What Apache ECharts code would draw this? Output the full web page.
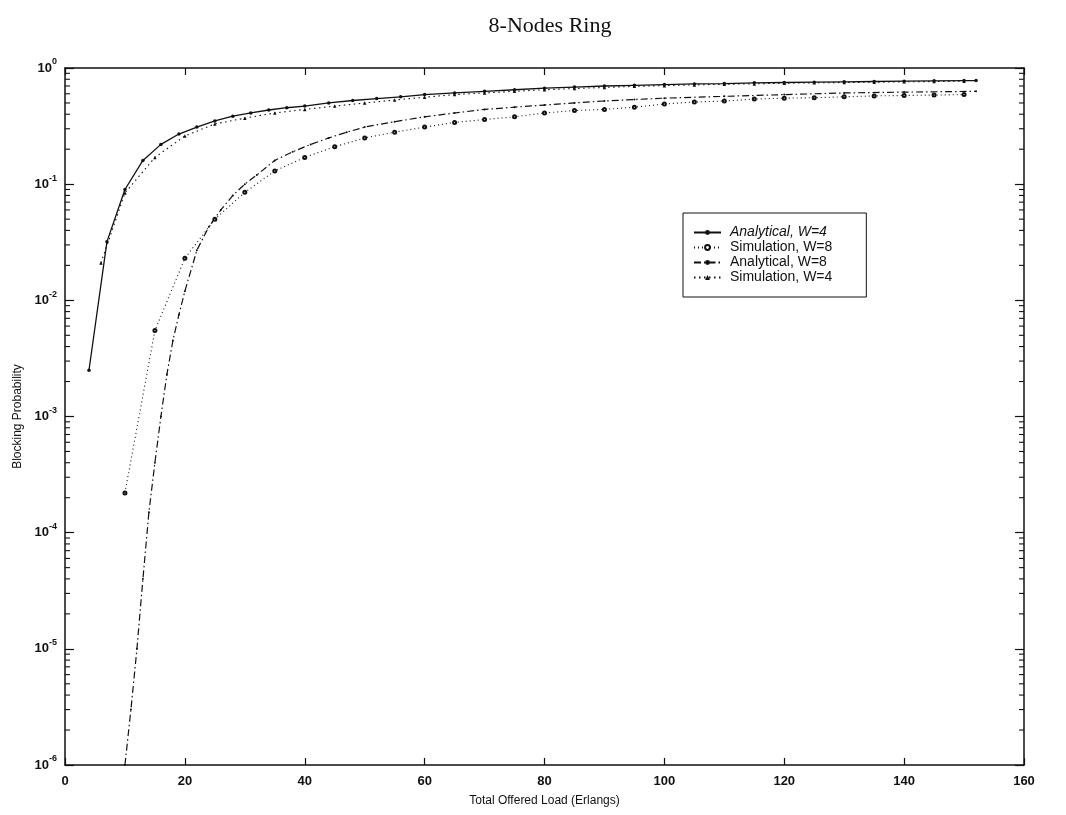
<!DOCTYPE html>
<html>
<head>
<meta charset="utf-8">
<script src="https://cdn.jsdelivr.net/npm/echarts@6/dist/echarts.min.js"></script>
<style>html,body{margin:0;padding:0;background:#fff}#c{width:1066px;height:815px}</style>
</head>
<body>
<div id="c"></div>
<script>
// ---- data ----
const xTicks = [0, 20, 40, 60, 80, 100, 120, 140, 160];
const yTickExponents = [0, -1, -2, -3, -4, -5, -6];

const anaW4X = [4,7,10,13,16,19,22,25,28,31,34,37,40,44,48,52,56,60,65,70,75,80,85,90,95,100,105,110,115,120,125,130,135,140,145,150,152];
const anaW4Y = [0.0025,0.032,0.09,0.16,0.22,0.27,0.31,0.35,0.385,0.41,0.435,0.455,0.47,0.5,0.525,0.545,0.565,0.59,0.61,0.63,0.65,0.67,0.685,0.70,0.71,0.72,0.73,0.735,0.745,0.75,0.755,0.76,0.765,0.77,0.775,0.78,0.78];

const simW4X = [6,10,15,20,25,30,35,40,45,50,55,60,65,70,75,80,85,90,95,100,105,110,115,120,125,130,135,140,145,150];
const simW4Y = [0.021,0.084,0.17,0.26,0.33,0.37,0.41,0.44,0.47,0.5,0.53,0.56,0.59,0.61,0.63,0.65,0.665,0.68,0.695,0.705,0.715,0.725,0.73,0.74,0.745,0.75,0.755,0.76,0.765,0.77];

const anaW8X = [10,11,12,13,14,15,16,17,18,19,20,22,24,26,28,30,32,35,38,41,44,47,50,55,60,65,70,75,80,85,90,95,100,110,120,130,140,152];
const anaW8Y = [1e-6,3e-6,1e-5,4e-5,1.5e-4,4e-4,1e-3,2.3e-3,4.5e-3,7.5e-3,0.012,0.027,0.043,0.06,0.08,0.1,0.12,0.16,0.19,0.22,0.25,0.28,0.31,0.345,0.38,0.41,0.44,0.46,0.48,0.5,0.52,0.535,0.55,0.57,0.59,0.61,0.62,0.63];

const simW8X = [10,15,20,25,30,35,40,45,50,55,60,65,70,75,80,85,90,95,100,105,110,115,120,125,130,135,140,145,150];
const simW8Y = [2.2e-4,0.0055,0.023,0.05,0.085,0.13,0.17,0.21,0.25,0.28,0.31,0.34,0.36,0.38,0.41,0.43,0.44,0.46,0.49,0.51,0.52,0.54,0.55,0.555,0.565,0.575,0.58,0.585,0.59];

const seriesNames = ['Analytical, W=4', 'Simulation, W=8', 'Analytical, W=8', 'Simulation, W=4'];

// minor tick positions of the log axis (2..9 per decade)
const minorTickVals = [];
for (let d = -6; d < 0; d++) for (let k = 2; k <= 9; k++) minorTickVals.push([0, k * Math.pow(10, d)]);

const zip = (xs, ys) => xs.map((x, i) => [x, ys[i]]);
const ink = '#111';
const fontSans = 'Liberation Sans, Arial, sans-serif';

const chart = echarts.init(document.getElementById('c'), null, {renderer: 'canvas'});
const yLabelFmt = v => '{b|10}{e|' + Math.round(Math.log10(v)) + '}';

chart.setOption({
  animation: false,
  backgroundColor: '#fff',
  title: {
    text: '8-Nodes Ring', left: 545, top: 10, textAlign: 'center',
    textStyle: {fontFamily: 'Liberation Serif, Times New Roman, serif', fontSize: 22, fontWeight: 'normal', color: ink}
  },
  grid: {left: 65, right: 42, top: 68, bottom: 50, containLabel: false},
  legend: {
    orient: 'vertical', left: 683, top: 213,
    backgroundColor: '#fff', borderColor: ink, borderWidth: 1, padding: [12, 34, 12, 10],
    itemWidth: 27, itemHeight: 6, itemGap: 0,
    textStyle: {fontFamily: fontSans, fontSize: 14, lineHeight: 15, color: ink, padding: [0, 0, 0, 4]},
    data: [
      {name: seriesNames[0], textStyle: {fontStyle: 'italic'}},
      {name: seriesNames[1]},
      {name: seriesNames[2]},
      {name: seriesNames[3]}
    ]
  },
  xAxis: [{
    type: 'value', min: 0, max: 160, interval: 20,
    name: 'Total Offered Load (Erlangs)', nameLocation: 'middle', nameGap: 30,
    nameTextStyle: {fontFamily: fontSans, fontSize: 12, color: ink},
    axisLine: {show: true, onZero: false, lineStyle: {color: ink, width: 1.5}},
    axisTick: {show: true, inside: true, length: 7, lineStyle: {color: ink, width: 1.2}},
    axisLabel: {margin: 10, fontFamily: fontSans, fontSize: 13, fontWeight: 'bold', color: ink},
    splitLine: {show: false}
  }, {
    type: 'value', min: 0, max: 160, interval: 20, position: 'top',
    axisLine: {show: true, onZero: false, lineStyle: {color: ink, width: 1.5}},
    axisTick: {show: true, inside: true, length: 7, lineStyle: {color: ink, width: 1.2}},
    axisLabel: {show: false}, splitLine: {show: false}
  }],
  yAxis: [{
    type: 'log', logBase: 10, min: 1e-6, max: 1,
    name: 'Blocking Probability', nameLocation: 'middle', nameGap: 40,
    nameTextStyle: {fontFamily: fontSans, fontSize: 12, color: ink},
    axisLine: {show: true, onZero: false, lineStyle: {color: ink, width: 1.5}},
    axisTick: {show: true, inside: true, length: 9, lineStyle: {color: ink, width: 1.2}},
    axisLabel: {
      margin: 8, formatter: yLabelFmt, color: ink,
      rich: {
        b: {fontFamily: fontSans, fontSize: 13, fontWeight: 'bold', color: ink},
        e: {fontFamily: fontSans, fontSize: 9, fontWeight: 'bold', color: ink, padding: [0, 0, 12, 0]}
      }
    },
    splitLine: {show: false}
  }, {
    type: 'log', logBase: 10, min: 1e-6, max: 1, position: 'right',
    axisLine: {show: true, onZero: false, lineStyle: {color: ink, width: 1.5}},
    axisTick: {show: true, inside: true, length: 9, lineStyle: {color: ink, width: 1.2}},
    axisLabel: {show: false}, splitLine: {show: false}
  }],
  series: [
    {
      name: seriesNames[0], type: 'line', data: zip(anaW4X, anaW4Y),
      symbol: 'circle', symbolSize: 3.5, showSymbol: true,
      lineStyle: {color: ink, width: 1.3, type: 'solid'}, itemStyle: {color: ink}
    },
    {
      name: seriesNames[1], type: 'line', data: zip(simW8X, simW8Y),
      symbol: 'emptyCircle', symbolSize: 3,
      lineStyle: {color: ink, width: 1.1, type: [1, 3]}, itemStyle: {color: ink, borderColor: ink, borderWidth: 1}
    },
    {
      name: seriesNames[2], type: 'line', data: zip(anaW8X, anaW8Y),
      symbol: 'circle', symbolSize: 2,
      lineStyle: {color: ink, width: 1.2, type: [7, 3, 1.5, 3]}, itemStyle: {color: ink}
    },
    {
      name: seriesNames[3], type: 'line', data: zip(simW4X, simW4Y),
      symbol: 'triangle', symbolSize: 3.5,
      lineStyle: {color: ink, width: 1.1, type: [1.5, 3.5]}, itemStyle: {color: ink}
    },
    {
      type: 'custom', silent: true, data: minorTickVals, xAxisIndex: 0, yAxisIndex: 0, clip: false,
      renderItem: (params, api) => {
        const v = api.value(1);
        const l = api.coord([0, v]);
        const r = api.coord([160, v]);
        const st = {stroke: ink, lineWidth: 1.1};
        return {type: 'group', children: [
          {type: 'line', shape: {x1: l[0], y1: l[1], x2: l[0] + 5, y2: l[1]}, style: st},
          {type: 'line', shape: {x1: r[0], y1: r[1], x2: r[0] - 5, y2: r[1]}, style: st}
        ]};
      }
    }
  ]
});
</script>
</body>
</html>
